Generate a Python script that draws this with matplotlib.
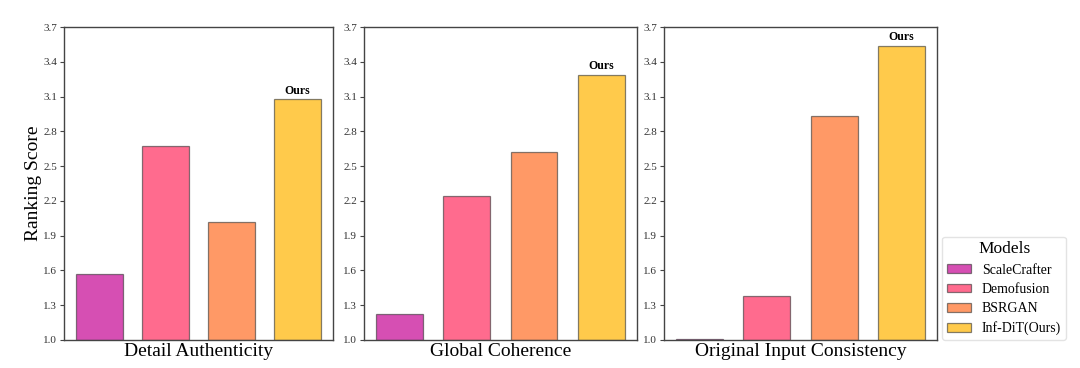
import matplotlib
matplotlib.use('Agg')
import matplotlib.pyplot as plt
import numpy as np

plt.rcParams['font.family'] = ['Liberation Serif', 'DejaVu Serif']

# Données
models = ['ScaleCrafter', 'Demofusion', 'BSRGAN', 'Inf-DiT(Ours)']
criteria = ['Detail Authenticity', 'Global Coherence', 'Original Input Consistency']
detail_scores = [1.57, 2.67, 2.02, 3.08]
global_scores = [1.22, 2.24, 2.62, 3.29]
original_scores = [1.01, 1.38, 2.93, 3.54]
yticks = [1.0, 1.3, 1.6, 1.9, 2.2, 2.5, 2.8, 3.1, 3.4, 3.7]

colors = ['#D64FB3', '#FF6B8E', '#FF9966', '#FFCA4B']
edge = (0.2, 0.2, 0.2, 0.6)

fig = plt.figure(figsize=(10.8, 3.68), dpi=100)
positions = [[0.0593, 0.0761, 0.249, 0.8505],
             [0.3370, 0.0761, 0.2528, 0.8505],
             [0.6148, 0.0761, 0.2528, 0.8505]]

all_scores = [detail_scores, global_scores, original_scores]
x = np.arange(len(models))
for pos, name, scores in zip(positions, criteria, all_scores):
    ax = fig.add_axes(pos)
    bars = ax.bar(x, np.array(scores) - 1.0, bottom=1.0, width=0.7,
                  color=colors, edgecolor=edge, linewidth=0.9,
                  label=models)
    ax.set_ylim(1.0, 3.7)
    ax.set_yticks(yticks)
    ax.set_yticklabels([f'{v:.1f}' for v in yticks], fontsize=8, color='#333333')
    ax.set_xticks([])
    ax.set_xlabel(name, fontsize=14, labelpad=2)
    ax.tick_params(axis='y', length=3, width=0.8, color='#444444', pad=2)
    for s in ax.spines.values():
        s.set_color('#444444')
        s.set_linewidth(1.0)
    # étiquette "Ours" sur la dernière barre
    ax.text(x[-1], scores[-1] + 0.02, 'Ours', ha='center', va='bottom',
            fontsize=8.5, fontweight='bold')
    if pos is positions[0]:
        ax.set_ylabel('Ranking Score', fontsize=14, labelpad=1)

handles = bars.patches
leg = fig.legend(handles, models, title='Models', loc='lower left',
                 bbox_to_anchor=(0.870, 0.068), fontsize=10, title_fontsize=12.5,
                 frameon=True, handlelength=1.7, handleheight=0.6,
                 borderpad=0.35, labelspacing=0.45, handletextpad=0.8,
                 borderaxespad=0.2)
leg.get_frame().set_edgecolor('#dddddd')

fig.savefig('out.png', dpi=100, facecolor='white')
